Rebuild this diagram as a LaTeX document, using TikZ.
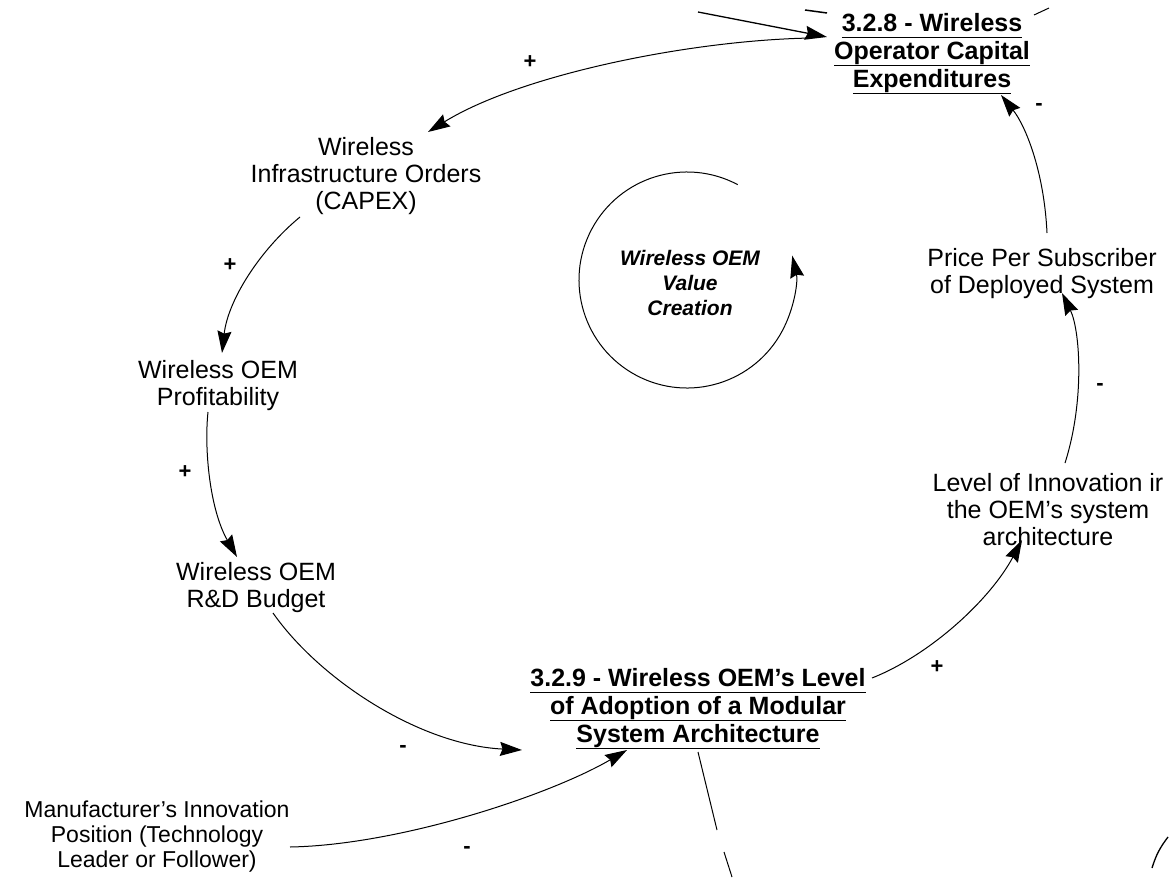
\documentclass[tikz,border=0pt]{standalone}
\usepackage{fontspec}
\setmainfont{Liberation Sans}
\usetikzlibrary{arrows.meta}
\newcommand\myul[1]{\setbox0\hbox{#1}\rlap{\rule[-6.5pt]{\wd0}{1.8pt}}\box0}
\begin{document}
\begin{tikzpicture}[x=1pt,y=-1pt,
  var/.style={align=center, inner sep=0pt, font=\fontsize{25}{27}\selectfont},
  key/.style={align=center, inner sep=0pt, font=\fontsize{25}{28}\selectfont\bfseries},
  link/.style={line width=1pt, -{Stealth[length=22pt,width=14pt,inset=2.5pt]}},
  plain/.style={line width=1pt},
  pol/.style={font=\fontsize{22}{22}\selectfont\bfseries, inner sep=0pt},
]
\useasboundingbox (0,0) rectangle (1174,880);

% variables
\node[key] (n328) at (932,54) {\myul{3.2.8 - Wireless}\\\myul{Operator Capital}\\\myul{Expenditures}};
\node[var] (infra) at (366,176) {Wireless\\Infrastructure Orders\\(CAPEX)};
\node[var] (prof) at (218,386) {Wireless OEM\\Profitability};
\node[var] (rd) at (256,588) {Wireless OEM\\R\&D Budget};
\node[key] (n329) at (698,709) {\myul{3.2.9 - Wireless OEM's Level}\\\myul{of Adoption of a Modular}\\\myul{System Architecture}};
\node[var] (level) at (1048,510) {Level of Innovation ir\\the OEM's system\\architecture};
\node[var] (price) at (1042,274) {Price Per Subscriber\\of Deployed System};
\node[var, font=\fontsize{23}{25}\selectfont] (manuf) at (157,837) {Manufacturer's Innovation\\Position (Technology\\Leader or Follower)};
\node[align=center, inner sep=0pt, font=\fontsize{21}{25}\selectfont\bfseries\itshape] (loop) at (690,283) {Wireless OEM\\Value\\Creation};

% free ends
\coordinate (src1) at (698,12);
\coordinate (out1) at (717,830);
\coordinate (f1a) at (805,10);
\coordinate (f1b) at (827,13);
\coordinate (f2a) at (1034,15);
\coordinate (f2b) at (1049,8);
\coordinate (f3a) at (724,852);
\coordinate (f3b) at (732,877);
\coordinate (f4a) at (1152,868);
\coordinate (f4b) at (1168,837);
\coordinate (loopc) at (687,280);

% links
\draw[link, line width=1.3pt] (src1) -- ([shift={(-105,-17)}]n328.center);
\draw[link] ([shift={(-120,-16)}]n328.center) .. controls (690,40) and (520,75) .. ([shift={(62,-44)}]infra.center);
\draw[link] ([shift={(-66,41)}]infra.center) .. controls (260,250) and (228,300) .. ([shift={(4,-33)}]prof.center);
\draw[link] ([shift={(-10,26)}]prof.center) .. controls (204,450) and (210,510) .. ([shift={(-19,-31)}]rd.center);
\draw[link] ([shift={(17,25)}]rd.center) .. controls (320,680) and (420,745) .. ([shift={(-176,41)}]n329.center);
\draw[link] ([shift={(133,10)}]manuf.center) .. controls (400,845) and (550,795) .. ([shift={(-71,41)}]n329.center);
\draw[link] ([shift={(174,-31)}]n329.center) .. controls (930,655) and (990,600) .. ([shift={(-26,30)}]level.center);
\draw[link] ([shift={(17,-47)}]level.center) .. controls (1085,400) and (1080,330) .. ([shift={(20,19)}]price.center);
\draw[link] ([shift={(5,-41)}]price.center) .. controls (1044,170) and (1025,125) .. ([shift={(69,41)}]n328.center);
\draw[plain] ([shift={(0,43)}]n329.center) -- (out1);
\draw[plain] (f3a) -- (f3b);
\draw[plain, line width=1.5pt] (f1a) -- (f1b);
\draw[plain] (f2a) -- (f2b);
\draw[plain, line width=1.3pt] (f4a) to[bend left=10] (f4b);

% loop
\draw[link] ([shift={(-62:108)}]loopc) arc[start angle=-62, end angle=-373, radius=108];

% polarities
\node[pol] (p1) at (530,62) {+};
\node[pol] (p2) at (230,265) {+};
\node[pol] (p3) at (185,472) {+};
\node[pol] (m1) at (403,749) {-};
\node[pol] (m2) at (467,850) {-};
\node[pol] (p4) at (937,667) {+};
\node[pol] (m3) at (1100,387) {-};
\node[pol] (m4) at (1039,107) {-};
\end{tikzpicture}
\end{document}
